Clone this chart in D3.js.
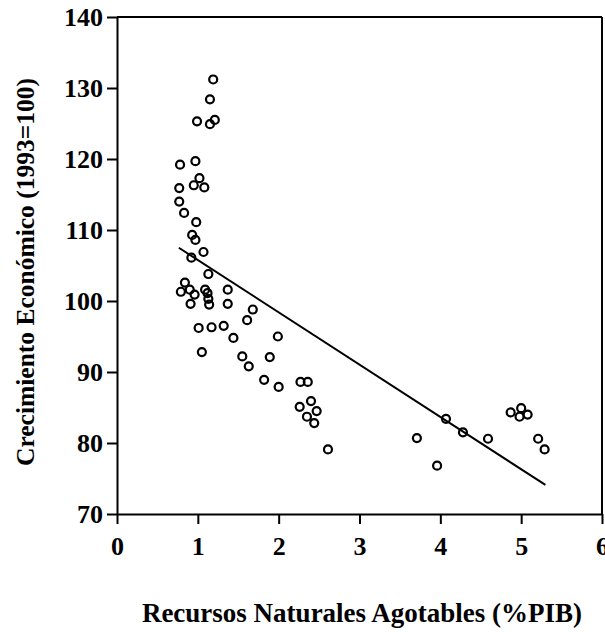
<!DOCTYPE html>
<html>
<head>
<meta charset="utf-8">
<script src="https://cdn.jsdelivr.net/npm/d3@7"></script>
<style>
  body { margin: 0; background: #fff; }
  svg { display: block; }
  text { font-family: "Liberation Serif", "Times New Roman", serif; font-weight: bold; fill: #000; }
</style>
</head>
<body>
<svg id="chart" width="605" height="632"></svg>
<script>
// Data
const recursos = [1.19,1.15,0.99,1.15,1.21,0.97,0.78,1.02,0.95,1.08,0.77,0.77,0.83,0.98,0.93,0.97,1.07,0.92,1.13,
  0.84,0.79,0.90,0.96,1.09,1.12,1.13,1.14,0.91,1.37,1.37,1.68,1.61,1.01,1.17,1.32,1.44,1.99,1.05,1.55,1.89,
  1.63,1.82,2.00,2.27,2.36,2.40,2.26,2.47,2.35,2.44,2.61,3.71,3.96,4.07,4.28,4.59,4.87,5.00,4.98,5.08,5.21,5.29];
const crecimiento = [131.2,128.4,125.3,124.9,125.5,119.7,119.2,117.3,116.3,116.0,115.9,114.0,112.4,111.1,109.3,108.6,106.9,106.1,103.8,
  102.6,101.3,101.6,100.9,101.6,101.1,100.3,99.5,99.6,101.6,99.6,98.8,97.3,96.2,96.3,96.5,94.8,95.0,92.8,92.2,92.1,
  90.8,88.9,87.9,88.6,88.6,85.9,85.1,84.5,83.7,82.8,79.1,80.7,76.8,83.4,81.5,80.6,84.3,84.9,83.7,84.0,80.6,79.1];
const fitX = [0.765, 5.30];
const fitY = [107.5, 74.1];
const xTicks = [0, 1, 2, 3, 4, 5, 6];
const yTicks = [70, 80, 90, 100, 110, 120, 130, 140];
const xTitle = "Recursos Naturales Agotables (%PIB)";
const yTitle = "Crecimiento Económico (1993=100)";

const svg = d3.select("#chart");
const m = { left: 117, top: 17, right: 3, bottom: 118 };
const W = 605 - m.left - m.right, H = 632 - m.top - m.bottom;

const x = d3.scaleLinear().domain([0, 6]).range([0, W]);
const y = d3.scaleLinear().domain([70, 140]).range([H, 0]);

const g = svg.append("g").attr("transform", `translate(${m.left},${m.top})`);

// frame (top and right)
g.append("line").attr("x1", 0).attr("x2", W).attr("y1", 0).attr("y2", 0)
  .attr("stroke", "#000").attr("stroke-width", 2);
g.append("line").attr("x1", W).attr("x2", W).attr("y1", 0).attr("y2", H)
  .attr("stroke", "#000").attr("stroke-width", 2);

const xAxis = g.append("g").attr("transform", `translate(0,${H})`)
  .call(d3.axisBottom(x).tickValues(xTicks).tickFormat(d3.format("d")).tickSize(10).tickSizeOuter(0));
const yAxis = g.append("g")
  .call(d3.axisLeft(y).tickValues(yTicks).tickFormat(d3.format("d")).tickSize(10).tickSizeOuter(0));

[xAxis, yAxis].forEach(a => {
  a.select(".domain").attr("stroke", "#000").attr("stroke-width", 2);
  a.selectAll(".tick line").attr("stroke", "#000").attr("stroke-width", 2);
  a.selectAll(".tick text").style("font-family", "'Liberation Serif', serif")
    .style("font-weight", "bold").style("font-size", "26px").attr("fill", "#000");
});
xAxis.selectAll(".tick text").attr("dy", "0").attr("y", 41);
yAxis.selectAll(".tick text").attr("x", -14).attr("dy", "0.34em");

// points
const pts = recursos.map((v, i) => ({ x: v, y: crecimiento[i] }));
g.append("g").selectAll("circle").data(pts).join("circle")
  .attr("cx", d => x(d.x)).attr("cy", d => y(d.y)).attr("r", 4)
  .attr("fill", "none").attr("stroke", "#000").attr("stroke-width", 2.2);

// regression line
g.append("path")
  .datum(fitX.map((v, i) => [v, fitY[i]]))
  .attr("d", d3.line().x(d => x(d[0])).y(d => y(d[1])))
  .attr("fill", "none").attr("stroke", "#000").attr("stroke-width", 2);

// axis titles
svg.append("text").attr("x", 362).attr("y", 622).attr("text-anchor", "middle")
  .style("font-size", "27px").text(xTitle);
svg.append("text").attr("transform", "translate(34,272) rotate(-90)").attr("text-anchor", "middle")
  .style("font-size", "25.5px").text(yTitle);
</script>
</body>
</html>
